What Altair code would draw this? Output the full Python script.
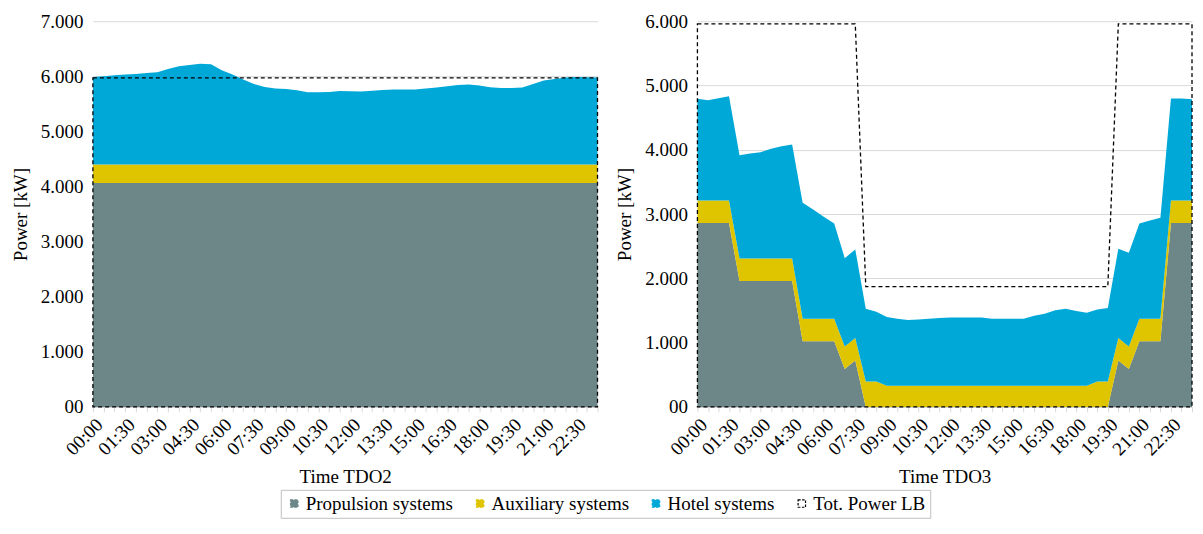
import altair as alt
import pandas as pd

times = ["00:00","00:30","01:00","01:30","02:00","02:30","03:00","03:30","04:00","04:30",
         "05:00","05:30","06:00","06:30","07:00","07:30","08:00","08:30","09:00","09:30",
         "10:00","10:30","11:00","11:30","12:00","12:30","13:00","13:30","14:00","14:30",
         "15:00","15:30","16:00","16:30","17:00","17:30","18:00","18:30","19:00","19:30",
         "20:00","20:30","21:00","21:30","22:00","22:30","23:00","23:30"]

series_names = ["Propulsion systems", "Auxiliary systems", "Hotel systems", "Tot. Power LB"]
series_colors = ["#6D8688", "#DFC400", "#00A8D8", "#FFFFFF"]

# TDO2
tdo2_prop = [4065] * 48
tdo2_aux = [335] * 48
tdo2_hotel = [1589, 1600, 1618, 1631, 1644, 1662, 1673, 1734, 1781, 1807, 1830, 1818,
              1709, 1631, 1540, 1462, 1408, 1377, 1371, 1346, 1310, 1310, 1317, 1335,
              1328, 1322, 1340, 1353, 1359, 1359, 1359, 1377, 1395, 1419, 1444, 1449,
              1431, 1400, 1389, 1389, 1395, 1462, 1522, 1553, 1576, 1589, 1582, 1576]
tdo2_lb = [5970] * 48

# TDO3
tdo3_prop = [2860, 2860, 2860, 2860, 1960, 1960, 1960, 1960, 1960, 1960, 1020, 1020,
             1020, 1020, 590, 720, 0, 0, 0, 0, 0, 0, 0, 0,
             0, 0, 0, 0, 0, 0, 0, 0, 0, 0, 0, 0,
             0, 0, 0, 0, 720, 590, 1020, 1020, 1020, 2860, 2860, 2860]
tdo3_aux = [350, 350, 350, 350, 350, 350, 350, 350, 350, 350, 350, 350,
            350, 350, 350, 350, 395, 395, 330, 330, 330, 330, 330, 330,
            330, 330, 330, 330, 330, 330, 330, 330, 330, 330, 330, 330,
            330, 330, 395, 395, 350, 350, 350, 350, 350, 350, 350, 350]
tdo3_hotel = [1583, 1561, 1592, 1624, 1606, 1632, 1653, 1706, 1746, 1772, 1806, 1702,
              1588, 1484, 1374, 1379, 1132, 1086, 1067, 1042, 1020, 1031, 1042, 1051,
              1062, 1062, 1062, 1062, 1042, 1042, 1042, 1042, 1088, 1119, 1175, 1197,
              1160, 1135, 1121, 1142, 1390, 1458, 1484, 1530, 1572, 1588, 1588, 1577]
tdo3_lb = [5960] * 16 + [1870] * 24 + [5960] * 8

FONT = "Liberation Serif"


def stack_frame(prop, aux, hotel):
    rows = []
    for k, (name, vals) in enumerate(zip(series_names[:3], [prop, aux, hotel])):
        for t, v in zip(times, vals):
            rows.append({"time": t, "series": name, "value": v, "ord": k})
    return pd.DataFrame(rows)


def lb_frame(lb):
    return pd.DataFrame({"time": times, "series": series_names[3], "value": lb})


legend_kw = dict(title=None, orient="none", legendX=188, legendY=469, direction="horizontal",
                 columns=4, symbolType="square", symbolSize=55, symbolStrokeWidth=1.2,
                 symbolDash=[2.5, 1.5],
                 labelFont=FONT, labelFontSize=19, labelColor="black", labelOffset=2,
                 columnPadding=17, padding=4, strokeColor="#BFBFBF")

show_label = "(toNumber(slice(datum.value,0,2))*2 + (slice(datum.value,3,5)=='30' ? 1 : 0)) % 3 == 0"
x_label_expr = show_label + " ? datum.value : ''"
y_label_expr = "datum.value == 0 ? '00' : replace(format(datum.value, ','), ',', '.')"


def panel(prop, aux, hotel, lb, ymax, xtitle, w):
    x = alt.X("time:O", sort=times, scale=alt.Scale(type="point", padding=0),
              axis=alt.Axis(title=xtitle, labelAngle=-45, labelExpr=x_label_expr,
                            labelFontSize={"condition": {"test": show_label, "value": 19}, "value": 0},
                            labelOverlap=False, labelBound=False, labelPadding=3,
                            tickColor="#D9D9D9", tickSize=5, domainColor="#D9D9D9",
                            grid=False, titlePadding=9))
    yvals = list(range(0, ymax + 1, 1000))
    y = alt.Y("value:Q", stack="zero", scale=alt.Scale(domain=[0, ymax], nice=False),
              axis=alt.Axis(title="Power [kW]", values=yvals, labelExpr=y_label_expr,
                            domain=False, ticks=False, gridColor="#D9D9D9", labelPadding=10,
                            titlePadding=10))
    areas = alt.Chart(stack_frame(prop, aux, hotel)).mark_area(opacity=1).encode(
        x=x, y=y,
        color=alt.Color("series:N", scale=alt.Scale(domain=series_names, range=series_colors),
                        legend=alt.Legend(**legend_kw)),
        order=alt.Order("ord:Q"),
    )
    lbl = alt.Chart(lb_frame(lb)).mark_area(fill="transparent", strokeWidth=1.3,
                                            strokeDash=[4, 3]).encode(
        x=x,
        y=alt.Y("value:Q", stack=None),
        stroke=alt.Stroke("series:N", scale=alt.Scale(domain=series_names,
                                                      range=series_colors[:3] + ["black"]),
                          legend=alt.Legend(**legend_kw)),
    )
    return alt.layer(areas, lbl).properties(width=w, height=386)


left = panel(tdo2_prop, tdo2_aux, tdo2_hotel, tdo2_lb, 7000, "Time TDO2", 505)
right = panel(tdo3_prop, tdo3_aux, tdo3_hotel, tdo3_lb, 6000, "Time TDO3", 495)

chart = alt.hconcat(left, right, spacing=15).resolve_scale(
    color="shared", stroke="shared"
).properties(
    padding={"left": 3, "top": 4, "right": 0, "bottom": 0}
).configure(
    font=FONT
).configure_axis(
    labelFont=FONT, labelFontSize=19, labelColor="black",
    titleFont=FONT, titleFontSize=19, titleFontWeight="normal", titleColor="black",
).configure_view(stroke=None)

chart.save("out.html", embed_options={"renderer": "svg", "actions": False})
